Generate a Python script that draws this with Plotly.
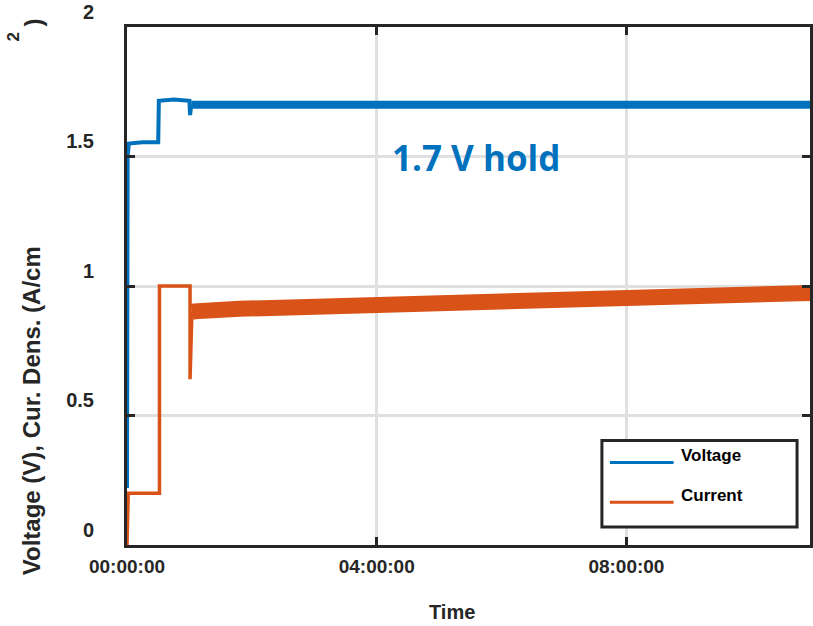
import plotly.graph_objects as go

# ---------------- data (hours, values) ----------------
volt_t_start = [0.0, 0.01, 0.03, 0.25, 0.50, 0.51, 0.75, 1.00, 1.01, 1.03]
volt_start = [0.22, 1.50, 1.55, 1.555, 1.555, 1.715, 1.72, 1.715, 1.66, 1.70]
volt_t_hold = [1.03, 2.0, 3.0, 4.0, 5.0, 6.0, 7.0, 8.0, 9.0, 10.0, 10.95]
volt_hold = [1.70, 1.70, 1.70, 1.699, 1.70, 1.70, 1.70, 1.699, 1.70, 1.70, 1.70]

curr_t_start = [0.0, 0.02, 0.52, 0.52, 1.01, 1.01, 1.04]
curr_start = [0.0, 0.2, 0.2, 1.0, 1.0, 0.64, 0.90]
curr_t_hold = [1.04, 1.08, 1.80, 2.76, 3.99, 5.15, 6.59, 7.54, 9.14, 10.95]
curr_hold = [0.90, 0.902, 0.912, 0.917, 0.925, 0.937, 0.943, 0.954, 0.963, 0.973]

x_tickvals = [0, 4, 8]
x_ticktext = ["00:00:00", "04:00:00", "08:00:00"]
y_tickvals = [0, 0.5, 1, 1.5, 2]
y_ticktext = ["0", "0.5", "1", "1.5", "2"]

BLUE = "#0072BD"
ORANGE = "#D95319"
DARK = "#262626"
FONT = "Arial, Liberation Sans, sans-serif"

W, H = 813, 626
L, R, T, B = 127, 0, 24, 81
PW, PH = W - L - R, H - T - B


def px(x):
    return (x - L) / PW


def py(y):
    return (H - B - y) / PH


fig = go.Figure()
fig.add_trace(go.Scatter(x=volt_t_start, y=volt_start, mode="lines",
                         line=dict(color=BLUE, width=4), showlegend=False))
fig.add_trace(go.Scatter(x=volt_t_hold, y=volt_hold, mode="lines",
                         line=dict(color=BLUE, width=8), showlegend=False))
fig.add_trace(go.Scatter(x=curr_t_start, y=curr_start, mode="lines",
                         line=dict(color=ORANGE, width=3.5), showlegend=False))
fig.add_trace(go.Scatter(x=curr_t_hold, y=curr_hold, mode="lines",
                         line=dict(color=ORANGE, width=16), showlegend=False))

shapes = []
# manual legend box
shapes.append(dict(type="rect", xref="paper", yref="paper",
                   x0=px(604), x1=px(800), y0=py(527), y1=py(440),
                   line=dict(color=DARK, width=3), fillcolor="white", layer="above"))
shapes.append(dict(type="line", xref="paper", yref="paper",
                   x0=px(612), x1=px(676), y0=py(462), y1=py(462),
                   line=dict(color=BLUE, width=3), layer="above"))
shapes.append(dict(type="line", xref="paper", yref="paper",
                   x0=px(612), x1=px(676), y0=py(502), y1=py(502),
                   line=dict(color=ORANGE, width=3), layer="above"))

annotations = [
    dict(text="Voltage", x=px(681), y=py(455), xref="paper", yref="paper",
         xanchor="left", yanchor="middle", showarrow=False,
         font=dict(family=FONT, size=17, color="black", weight="bold")),
    dict(text="Current", x=px(681), y=py(495), xref="paper", yref="paper",
         xanchor="left", yanchor="middle", showarrow=False,
         font=dict(family=FONT, size=17, color="black", weight="bold")),
    dict(text="1.7 V hold", x=px(478), y=py(155), xref="paper", yref="paper",
         xanchor="center", yanchor="middle", showarrow=False,
         font=dict(family="Open Sans, Lato, sans-serif", size=35, color=BLUE, weight="bold")),
    dict(text="Voltage (V), Cur. Dens. (A/cm", x=px(31), y=py(410), xref="paper", yref="paper",
         xanchor="center", yanchor="middle", showarrow=False, textangle=-90,
         font=dict(family=FONT, size=24, color=DARK, weight="bold")),
    dict(text="2", x=px(13), y=py(34), xref="paper", yref="paper",
         xanchor="center", yanchor="middle", showarrow=False, textangle=-90,
         font=dict(family=FONT, size=17, color=DARK, weight="bold")),
    dict(text=")", x=px(33), y=py(19), xref="paper", yref="paper",
         xanchor="center", yanchor="middle", showarrow=False, textangle=-90,
         font=dict(family=FONT, size=24, color=DARK, weight="bold")),
    dict(text="Time", x=px(453), y=py(612), xref="paper", yref="paper",
         xanchor="center", yanchor="middle", showarrow=False,
         font=dict(family=FONT, size=20, color=DARK, weight="bold")),
]

fig.update_layout(
    width=W, height=H,
    margin=dict(l=L, r=R, t=T, b=B, pad=0),
    plot_bgcolor="white", paper_bgcolor="white",
    showlegend=False,
    shapes=shapes,
    annotations=annotations,
    xaxis=dict(range=[0, PW / 62.7], tickvals=x_tickvals, ticktext=x_ticktext,
               showgrid=True, gridcolor="#e0e0e0", gridwidth=3,
               showline=True, linecolor=DARK, linewidth=3, mirror="ticks",
               ticks="inside", ticklen=8, tickwidth=3, tickcolor=DARK,
               ticklabelstandoff=2, zeroline=False,
               tickfont=dict(family=FONT, size=19, color=DARK, weight="bold")),
    yaxis=dict(range=[0, 2], tickvals=y_tickvals, ticktext=y_ticktext,
               showgrid=True, gridcolor="#e0e0e0", gridwidth=3,
               showline=True, linecolor=DARK, linewidth=3, mirror="ticks",
               ticks="inside", ticklen=8, tickwidth=3, tickcolor=DARK,
               ticklabelposition="outside top", ticklabeloverflow="allow",
               ticklabelstandoff=26, zeroline=False,
               tickfont=dict(family=FONT, size=20, color=DARK, weight="bold")),
)

fig.write_html("out.html")
